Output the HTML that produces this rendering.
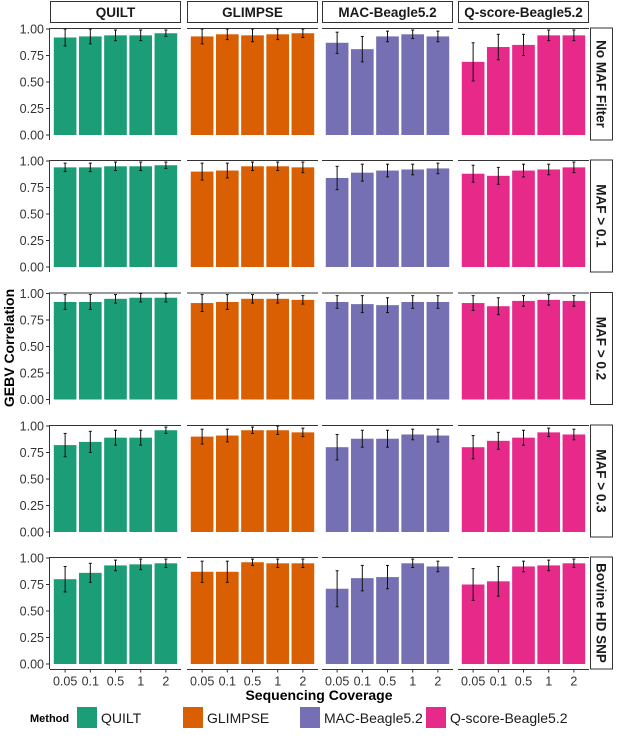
<!DOCTYPE html>
<html><head><meta charset="utf-8">
<style>body{margin:0;background:#fff}svg{display:block;font-family:"Liberation Sans",sans-serif}</style>
</head><body>
<svg id="c" width="617" height="744"></svg>
<script>
const methods=["QUILT","GLIMPSE","MAC-Beagle5.2","Q-score-Beagle5.2"];
const colors=["#1B9E77","#D95F02","#7570B3","#E7298A"];
const rowsLab=["No MAF Filter","MAF > 0.1","MAF > 0.2","MAF > 0.3","Bovine HD SNP"];
const coverage=["0.05","0.1","0.5","1","2"];
const yTicks=[0,0.25,0.5,0.75,1];
const yTickLabels=["0.00","0.25","0.50","0.75","1.00"];
const valNoMaf=[[.92,.93,.94,.94,.96],[.93,.95,.94,.95,.96],[.87,.81,.93,.95,.93],[.69,.83,.85,.94,.94]];
const errNoMaf=[[.08,.07,.05,.05,.03],[.07,.05,.06,.05,.04],[.1,.12,.05,.04,.05],[.18,.12,.1,.05,.05]];
const valMaf1=[[.94,.94,.95,.95,.96],[.90,.91,.95,.95,.94],[.84,.89,.91,.92,.93],[.88,.86,.91,.92,.94]];
const errMaf1=[[.04,.04,.04,.04,.03],[.08,.07,.04,.04,.05],[.11,.08,.06,.05,.05],[.08,.08,.06,.05,.05]];
const valMaf2=[[.92,.92,.95,.96,.96],[.91,.92,.95,.95,.94],[.92,.90,.89,.92,.92],[.91,.88,.93,.94,.93]];
const errMaf2=[[.07,.07,.04,.04,.04],[.08,.07,.04,.04,.04],[.06,.08,.07,.06,.06],[.07,.08,.05,.05,.05]];
const valMaf3=[[.82,.85,.89,.89,.96],[.90,.91,.96,.96,.94],[.80,.88,.88,.92,.91],[.80,.86,.89,.94,.92]];
const errMaf3=[[.11,.1,.07,.07,.03],[.07,.06,.03,.04,.04],[.12,.08,.08,.05,.06],[.11,.08,.07,.04,.05]];
const valHd=[[.80,.86,.93,.94,.95],[.87,.87,.96,.95,.95],[.71,.81,.82,.95,.92],[.75,.78,.92,.93,.95]];
const errHd=[[.12,.09,.05,.05,.04],[.1,.1,.03,.04,.04],[.17,.12,.11,.04,.05],[.15,.14,.05,.05,.04]];
const vals=[valNoMaf,valMaf1,valMaf2,valMaf3,valHd];
const errs=[errNoMaf,errMaf1,errMaf2,errMaf3,errHd];

const svg=document.getElementById('c');const NS="http://www.w3.org/2000/svg";
function mk(t,a,p){const e=document.createElementNS(NS,t);for(const k in a)e.setAttribute(k,a[k]);(p||svg).appendChild(e);return e;}
const colX=[50,187,322,458],panelW=131;
const rowY1=[29,161,293.5,426,558],unit=106;
function yS(r,v){return rowY1[r]+unit*(1-v);}
function xS(c,i){return colX[c]+panelW*(i+1-0.4)/5.2;}
const bw=panelW/5.2*0.9;
methods.forEach((m,c)=>{
  const g=mk('g',{});
  mk('rect',{x:colX[c]+0.5,y:1.5,width:panelW-1,height:21,fill:'#fff',stroke:'#333','stroke-width':1},g);
  const t=mk('text',{x:colX[c]+panelW/2,y:17,'text-anchor':'middle','font-size':13.5,'font-weight':'bold',fill:'#1a1a1a'},g);t.textContent=m;
});
rowsLab.forEach((lab,r)=>{
  const top=rowY1[r]-1,bot=yS(r,0)+5;
  const g=mk('g',{});
  mk('rect',{x:590.5,y:top,width:22,height:bot-top,fill:'#fff',stroke:'#333','stroke-width':1},g);
  const cy=(top+bot)/2;
  const t=mk('text',{x:601,y:cy,'text-anchor':'middle','dominant-baseline':'central','font-size':13.5,'font-weight':'bold',fill:'#1a1a1a',transform:`rotate(90 601 ${cy})`},g);t.textContent=lab;
  mk('line',{x1:49.5,x2:49.5,y1:top,y2:bot,stroke:'#333'});
  yTicks.forEach((v,k)=>{const y=yS(r,v);mk('line',{x1:46,x2:49.5,y1:y,y2:y,stroke:'#333'});
    const tt=mk('text',{x:44,y:y+4.5,'text-anchor':'end','font-size':12.5,fill:'#333'});tt.textContent=yTickLabels[k];});
  methods.forEach((m,c)=>{
    mk('line',{x1:colX[c],x2:colX[c]+panelW,y1:top+0.5,y2:top+0.5,stroke:'#333'});
    coverage.forEach((cv,i)=>{
      const v=vals[r][c][i],e=errs[r][c][i],cx=xS(c,i);
      const b=mk('rect',{x:cx-bw/2,y:yS(r,v),width:bw,height:yS(r,0)-yS(r,v),fill:colors[c]});
      
      
      const y1=yS(r,Math.min(1.0,v+e)),y2=yS(r,v-e);
      mk('line',{x1:cx,x2:cx,y1:y1,y2:y2,stroke:'#111','stroke-width':1});
      mk('line',{x1:cx-1.5,x2:cx+1.5,y1:y1,y2:y1,stroke:'#111'});
      mk('line',{x1:cx-1.5,x2:cx+1.5,y1:y2,y2:y2,stroke:'#111'});
    });
    if(r===4){const by=yS(r,0)+5.5;mk('line',{x1:colX[c],x2:colX[c]+panelW,y1:by,y2:by,stroke:'#333'});
      coverage.forEach((cv,i)=>{const cx=xS(c,i);mk('line',{x1:cx,x2:cx,y1:by,y2:by+3,stroke:'#333'});
        const tt=mk('text',{x:cx,y:by+16,'text-anchor':'middle','font-size':12.5,fill:'#333'});tt.textContent=cv;});}
  });
});
let t=mk('text',{x:319,y:700,'text-anchor':'middle','font-size':14,'font-weight':'bold'});t.textContent="Sequencing Coverage";
t=mk('text',{x:14,y:348,'text-anchor':'middle','font-size':14,'font-weight':'bold',transform:'rotate(-90 14 348)'});t.textContent="GEBV Correlation";
t=mk('text',{x:30,y:722,'font-size':11,'font-weight':'bold'});t.textContent="Method";
const lx=[77,183,300,426];
methods.forEach((m,c)=>{const g=mk('g',{});
  mk('rect',{x:lx[c],y:707,width:20,height:21,fill:colors[c]},g);
  const tt=mk('text',{x:lx[c]+24,y:723,'font-size':14,fill:'#1a1a1a'},g);tt.textContent=m;});
</script>
</body></html>
